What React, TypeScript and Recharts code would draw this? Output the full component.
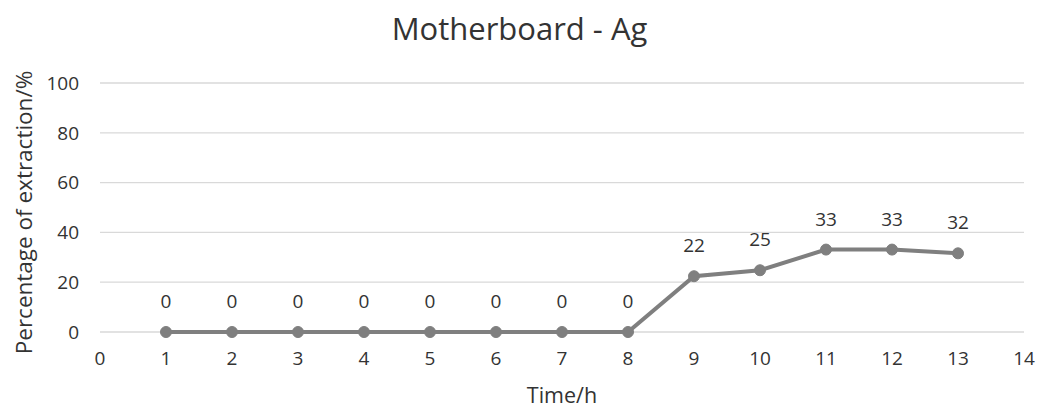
import React from 'react';
import { LineChart, Line, XAxis, YAxis, CartesianGrid, LabelList } from 'recharts';

const hours = [1, 2, 3, 4, 5, 6, 7, 8, 9, 10, 11, 12, 13];
const extraction = [0, 0, 0, 0, 0, 0, 0, 0, 22.4, 24.8, 33.1, 33.1, 31.6];
const xTicks = [0, 1, 2, 3, 4, 5, 6, 7, 8, 9, 10, 11, 12, 13, 14];
const yTicks = [0, 20, 40, 60, 80, 100];

const title = 'Motherboard - Ag';
const xTitle = 'Time/h';
const yTitle = 'Percentage of extraction/%';

const data = hours.map((h, i) => ({ h, v: extraction[i] }));

const FONT = '"Open Sans", sans-serif';
const TEXT = '#333333';

const YLabel = (props: any) => {
  const vb = props.viewBox || {};
  const cx = 23;
  const cy = vb.y + vb.height / 2 + 5;
  return (
    <text
      x={cx}
      y={cy}
      transform={`rotate(-90, ${cx}, ${cy})`}
      textAnchor="middle"
      dominantBaseline="central"
      fontSize={22.5}
      fontFamily={FONT}
      fill={TEXT}
    >
      {yTitle}
    </text>
  );
};

const XLabel = (props: any) => {
  const vb = props.viewBox || {};
  const cx = vb.x + vb.width / 2;
  return (
    <text x={cx} y={403} textAnchor="middle" fontSize={21.5} fontFamily={FONT} fill={TEXT}>
      {xTitle}
    </text>
  );
};

export default function App() {
  return (
    <div style={{ position: 'absolute', left: 0, top: 0, width: 1037, height: 410, background: '#fff' }}>
      <svg width={1037} height={60} style={{ position: 'absolute', left: 0, top: 0 }}>
        <text x={519.5} y={40} textAnchor="middle" fontSize={31} fontFamily={FONT} fill={TEXT}>
          {title}
        </text>
      </svg>
      <div style={{ position: 'absolute', left: 0, top: 0 }}>
        <LineChart width={1037} height={410} data={data} margin={{ top: 83, right: 13, left: 10, bottom: 8 }}>
          <CartesianGrid vertical={false} stroke="#d9d9d9" strokeWidth={1.3} />
          <XAxis
            dataKey="h"
            type="number"
            domain={[0, 14]}
            ticks={xTicks}
            interval={0}
            axisLine={false}
            tickLine={false}
            tickSize={0}
            tickMargin={20}
            height={70}
            tick={{ fontSize: 19, fontFamily: FONT, fill: TEXT }}
            label={<XLabel />}
          />
          <YAxis
            type="number"
            domain={[0, 100]}
            ticks={yTicks}
            interval={0}
            axisLine={false}
            tickLine={false}
            tickSize={0}
            tickMargin={21}
            width={90}
            tick={{ fontSize: 19, fontFamily: FONT, fill: TEXT }}
            label={<YLabel />}
          />
          <Line
            dataKey="v"
            stroke="#7f7f7f"
            strokeWidth={4}
            dot={{ r: 5.5, fill: '#7f7f7f', stroke: '#7f7f7f', strokeWidth: 1 }}
            activeDot={false}
            isAnimationActive={false}
          >
            <LabelList
              dataKey="v"
              position="top"
              offset={24}
              formatter={(v: any) => Math.round(Number(v))}
              style={{ fontSize: 19, fontFamily: FONT, fill: TEXT }}
            />
          </Line>
        </LineChart>
      </div>
    </div>
  );
}
